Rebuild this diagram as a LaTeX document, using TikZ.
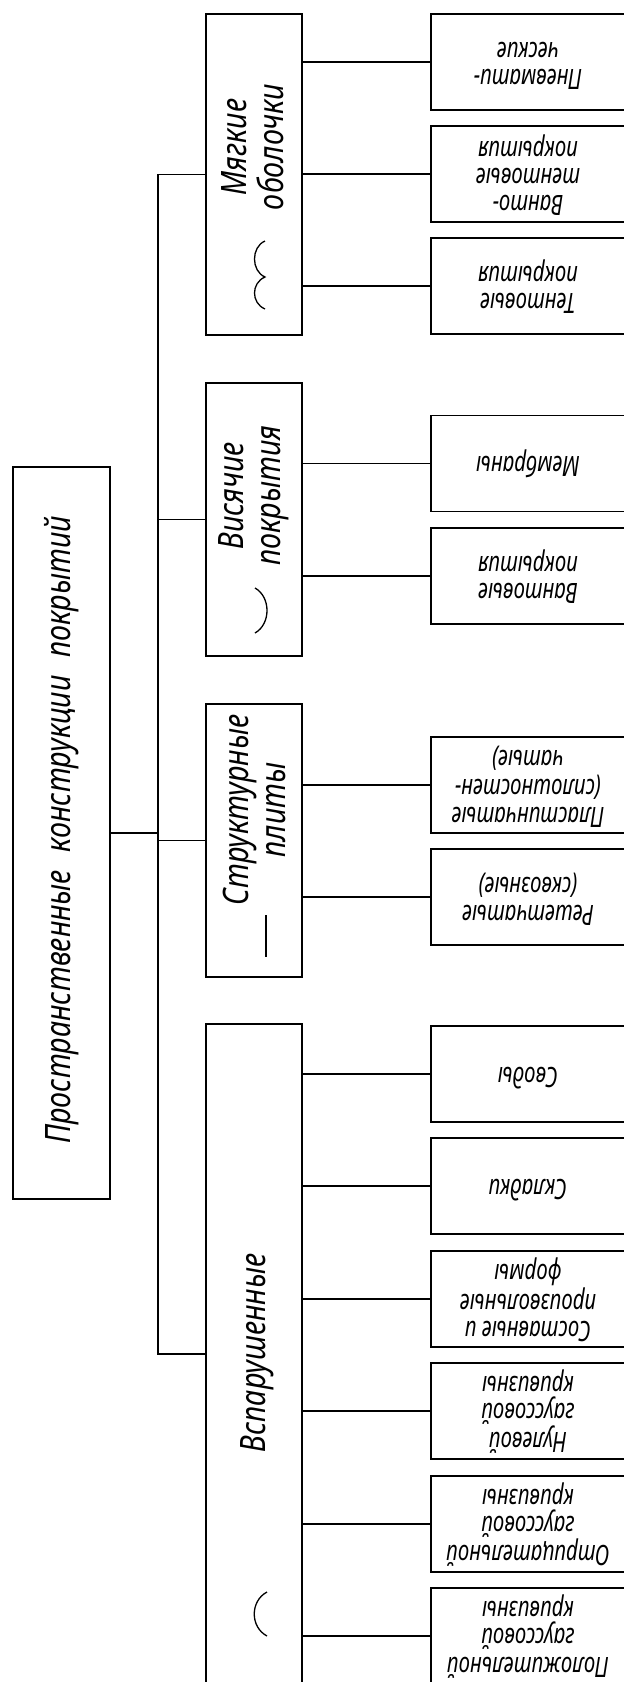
\documentclass[tikz,border=0pt]{standalone}
\usepackage{fontspec}
\setmainfont{Noto Sans}[FakeStretch=0.82]
\newfontfamily\narrowfont{Noto Sans}[FakeStretch=0.73]
\usetikzlibrary{positioning}

\newcommand{\bigtxt}{\fontsize{35}{37}\selectfont\itshape}
\newcommand{\smalltxt}{\narrowfont\fontsize{28}{27}\selectfont\itshape}
\newcommand{\upsd}[1]{\rotatebox[origin=c]{180}{\begin{tabular}{@{}c@{}}#1\end{tabular}}}

\begin{document}
\begin{tikzpicture}[x=1pt,y=-1pt,line width=1.3pt,
	box/.style={draw,rectangle,inner sep=0pt},
	lbox/.style={box,minimum width=96pt},
	rbox/.style={box,minimum width=194pt,minimum height=96pt,font=\smalltxt},
	ltext/.style={rotate=90,align=center,font=\bigtxt,inner sep=0pt}]
	\useasboundingbox (0,0) rectangle (624,1682);
	\clip (0,0) rectangle (624,1682);
	% root
	\node[box,minimum width=97pt,minimum height=732pt] (root) at (61.5,833) {};
	\node[ltext] (roottext) at (62,830) {Пространственные\hspace{0.5em}конструкции\hspace{0.5em}покрытий};
	\coordinate (fork) at (158,833);
	\draw (root.east) -- (fork);
	% first level
	\node[lbox,minimum height=321pt] (soft) at (254,174.5) {};
	\node[lbox,minimum height=273pt] (hang) at (254,519.5) {};
	\node[lbox,minimum height=273pt] (slab) at (254,840.5) {};
	\node[lbox,minimum height=660pt] (vault) at (254,1354) {};
	\node[ltext] (softtext) at (253,147) {Мягкие\\оболочки};
	\node[ltext] (hangtext) at (254,496) {Висячие\\покрытия};
	\node[ltext] (slabtext) at (254,810) {Структурные\\плиты};
	\node[ltext] (vaulttext) at (257,1353) {Вспарушенные};
	\draw (soft.west) -| (fork);
	\draw (hang.west) -| (fork);
	\draw (slab.west) -| (fork);
	\draw (vault.west) -| (fork);
	% signs
	\draw (265,241) .. controls (251,247) and (251,271) .. (265,277) .. controls (251,283) and (251,303) .. (265,309);
	\draw (255,588) .. controls (271,597) and (271,624) .. (255,633);
	\draw (266,915) -- (266,957);
	\draw (267,1592) .. controls (250,1601) and (250,1627) .. (267,1636);
	% second level
	\node[rbox] (pnev) at (528,62) {\upsd{Пневмати-\\ческие}};
	\node[rbox] (vtent) at (528,174) {\upsd{Ванто-\\тентовые\\покрытия}};
	\node[rbox] (tent) at (528,286) {\upsd{Тентовые\\покрытия}};
	\node[rbox] (membr) at (528,463.5) {\upsd{Мембраны}};
	\node[rbox] (vant) at (528,576) {\upsd{Вантовые\\покрытия}};
	\node[rbox] (plast) at (528,785) {\upsd{Пластинчатые\\(сплошностен-\\чатые)}};
	\node[rbox] (reshet) at (528,897) {\upsd{Решетчатые\\(сквозные)}};
	\node[rbox] (svod) at (528,1074) {\upsd{Своды}};
	\node[rbox] (sklad) at (528,1186) {\upsd{Складки}};
	\node[rbox] (sost) at (528,1299) {\upsd{Составные и\\произвольные\\формы}};
	\node[rbox] (nul) at (528,1411) {\upsd{Нулевой\\гауссовой\\кривизны}};
	\node[rbox] (otr) at (528,1524) {\upsd{Отрицательной\\гауссовой\\кривизны}};
	\node[rbox] (pol) at (528,1636) {\upsd{Положительной\\гауссовой\\кривизны}};
	\draw (soft.east |- pnev) -- (pnev.west);
	\draw (soft.east |- vtent) -- (vtent.west);
	\draw (soft.east |- tent) -- (tent.west);
	\draw (hang.east |- membr) -- (membr.west);
	\draw (hang.east |- vant) -- (vant.west);
	\draw (slab.east |- plast) -- (plast.west);
	\draw (slab.east |- reshet) -- (reshet.west);
	\draw (vault.east |- svod) -- (svod.west);
	\draw (vault.east |- sklad) -- (sklad.west);
	\draw (vault.east |- sost) -- (sost.west);
	\draw (vault.east |- nul) -- (nul.west);
	\draw (vault.east |- otr) -- (otr.west);
	\draw (vault.east |- pol) -- (pol.west);
\end{tikzpicture}
\end{document}
